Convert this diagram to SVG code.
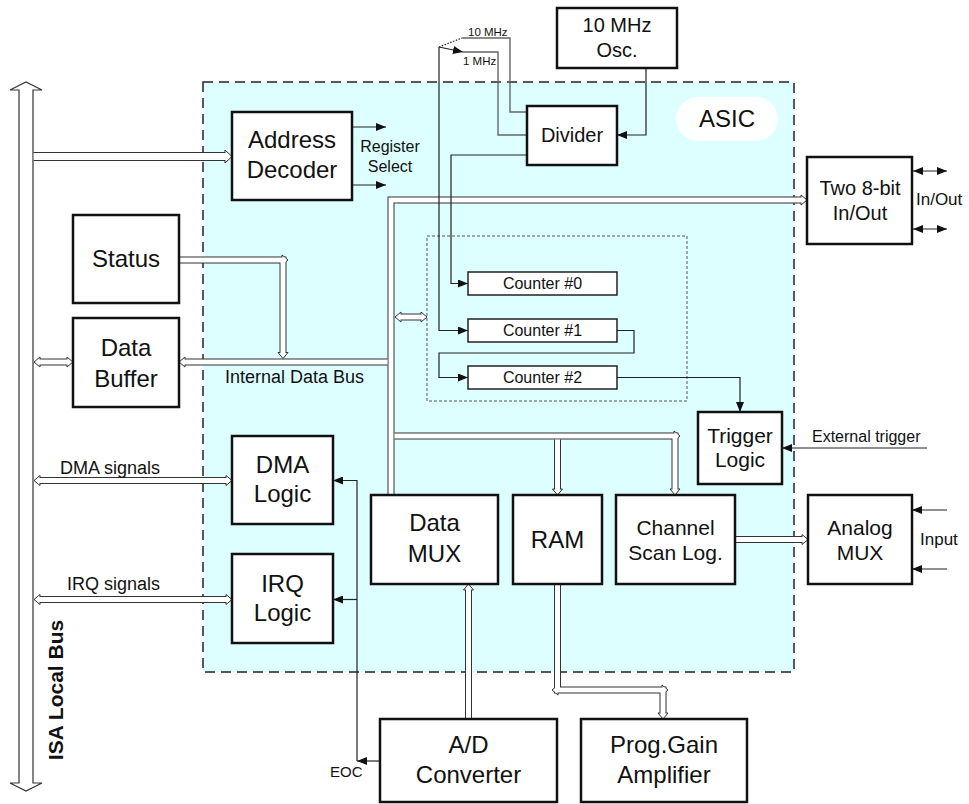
<svg xmlns="http://www.w3.org/2000/svg" xmlns:xlink="http://www.w3.org/1999/xlink" width="969" height="804" viewBox="0 0 969 804">
  <style>
    text { font-family: "Liberation Sans", Arial, sans-serif; fill: #111; }
    .box { fill: #fff; stroke: #111; stroke-width: 2.5; }
    .cnt { fill: #fff; stroke: #222; stroke-width: 1.5; }
    .t24 { font-size: 24px; text-anchor: middle; }
    .t21 { font-size: 21px; text-anchor: middle; }
    .t20 { font-size: 20px; text-anchor: middle; }
    .t16 { font-size: 16px; }
    .bo { fill: none; stroke: #333; stroke-width: 7; }
    .bi { fill: none; stroke: #fff; stroke-width: 5; }
    .bo2 { fill: none; stroke: #333; stroke-width: 9; }
    .bi2 { fill: none; stroke: #fff; stroke-width: 7; }
    .bh { fill: #fff; stroke: #333; stroke-width: 1; }
    .sig { fill: none; stroke: #222; stroke-width: 1.2; }
    .clk { fill: none; stroke: #666; stroke-width: 1.4; }
  </style>
  <defs>
    <marker id="a" viewBox="0 0 10 8" refX="10" refY="4" markerWidth="10" markerHeight="8" markerUnits="userSpaceOnUse" orient="auto">
      <path d="M0,0 L10,4 L0,8 z" fill="#111"/>
    </marker>
    <marker id="a2" viewBox="0 0 10 8" refX="10" refY="4" markerWidth="10" markerHeight="8" markerUnits="userSpaceOnUse" orient="auto-start-reverse">
      <path d="M0,0 L10,4 L0,8 z" fill="#111"/>
    </marker>
    <!-- open bus arrowheads, tip at origin, pointing +x -->
    <path id="h" class="bh" d="M-6,-5 L0,0 L-6,5 Z"/>
    <path id="hL" class="bh" d="M-7,-6.5 L0,0 L-7,6.5 Z"/>
  </defs>

  <!-- ASIC boundary -->
  <g id="asic">
    <rect x="203" y="82" width="591" height="590" fill="#ddffff" stroke="#222" stroke-width="1.5" stroke-dasharray="10 6"/>
    <rect x="676" y="97" width="102" height="44" rx="22" fill="#fff"/>
    <text x="727" y="127" class="t24">ASIC</text>
  </g>
  <g id="counters-group">
    <rect x="427" y="236" width="260" height="165" fill="none" stroke="#555" stroke-width="1" stroke-dasharray="3 2"/>
  </g>

  <g id="connectors">
    <!-- ISA local bus -->
    <polygon points="19,783 19,90 10,90 26,82 42,90 33,90 33,783 42,783 26,791 10,783" fill="#fff" stroke="#333" stroke-width="1.2"/>

    <!-- bus outlines -->
    <path class="bo2" d="M33.6 156.5 H225"/>
    <path class="bo" d="M179 260 H283 V352.5"/>
    <path class="bo" d="M391 495 V200 H801"/>
    <path class="bo" d="M185 362 H387.5"/>
    <path class="bo" d="M40 362 H67"/>
    <path class="bo" d="M401 317 H421"/>
    <path class="bo" d="M394.5 436 H675 V489"/>
    <path class="bo" d="M557.5 439.5 V489"/>
    <path class="bo" d="M735 539.5 H802"/>
    <path class="bo" d="M40 480.5 H226"/>
    <path class="bo" d="M40 599.5 H226"/>
    <path class="bo" d="M468.5 719 V590"/>
    <path class="bo" d="M557.5 584 V690 H663 V713"/>

    <!-- bus arrowheads -->
    <use xlink:href="#hL" transform="translate(232,156.5)"/>
    <use xlink:href="#h" transform="translate(288,260)"/>
    <use xlink:href="#h" transform="translate(283,358.5) rotate(90)"/>
    <use xlink:href="#h" transform="translate(807,200)"/>
    <use xlink:href="#h" transform="translate(179,362) rotate(180)"/>
    <use xlink:href="#h" transform="translate(34,362) rotate(180)"/>
    <use xlink:href="#h" transform="translate(73,362)"/>
    <use xlink:href="#h" transform="translate(395,317) rotate(180)"/>
    <use xlink:href="#h" transform="translate(427,317)"/>
    <use xlink:href="#h" transform="translate(680,436)"/>
    <use xlink:href="#h" transform="translate(675,495) rotate(90)"/>
    <use xlink:href="#h" transform="translate(557.5,495) rotate(90)"/>
    <use xlink:href="#h" transform="translate(808,539.5)"/>
    <use xlink:href="#h" transform="translate(34,480.5) rotate(180)"/>
    <use xlink:href="#h" transform="translate(232,480.5)"/>
    <use xlink:href="#h" transform="translate(34,599.5) rotate(180)"/>
    <use xlink:href="#h" transform="translate(232,599.5)"/>
    <use xlink:href="#h" transform="translate(468.5,584) rotate(-90)"/>
    <use xlink:href="#h" transform="translate(552,690) rotate(180)"/>
    <use xlink:href="#h" transform="translate(668,690)"/>
    <use xlink:href="#h" transform="translate(663,719) rotate(90)"/>

    <!-- bus interiors -->
    <path class="bi2" d="M33.6 156.5 H227"/>
    <path class="bi" d="M179 260 H283 V354.5"/>
    <path class="bi" d="M391 495 V200 H803"/>
    <path class="bi" d="M183 362 H387.5"/>
    <path class="bi" d="M38 362 H69"/>
    <path class="bi" d="M399 317 H423"/>
    <path class="bi" d="M394.5 436 H675 V491"/>
    <path class="bi" d="M557.5 439.5 V491"/>
    <path class="bi" d="M735 539.5 H804"/>
    <path class="bi" d="M38 480.5 H228"/>
    <path class="bi" d="M38 599.5 H228"/>
    <path class="bi" d="M468.5 719 V588"/>
    <path class="bi" d="M557.5 584 V690 H663 V715"/>

    <!-- clock selection -->
    <path class="clk" d="M527 112 H510 V38 H462"/>
    <path class="clk" d="M527 135 H498 V52 H463"/>
    <path class="sig" d="M439 47 L463 52" marker-end="url(#a)"/>
    <path class="sig" d="M439 47 L462 38" stroke-dasharray="1.5 1.5"/>
    <path class="sig" d="M646 68 V135 H617" marker-end="url(#a)"/>

    <!-- counter chain -->
    <path class="sig" d="M439 47 V330.5 H468" marker-end="url(#a)"/>
    <path class="sig" d="M527 155 H451 V283.5 H468" marker-end="url(#a)"/>
    <path class="sig" d="M617 330.5 H634 V353 H439 V377.5 H468" marker-end="url(#a)"/>
    <path class="sig" d="M617 377.5 H740 V412" marker-end="url(#a)"/>
    <path class="sig" d="M927 448 H782" marker-end="url(#a)"/>

    <!-- register select -->
    <path class="sig" d="M352 127 H386" marker-end="url(#a)"/>
    <path class="sig" d="M352 185 H386" marker-end="url(#a)"/>

    <!-- external I/O -->
    <path class="sig" d="M913 171 H947" marker-start="url(#a2)" marker-end="url(#a2)"/>
    <path class="sig" d="M913 229 H947" marker-start="url(#a2)" marker-end="url(#a2)"/>
    <path class="sig" d="M947 510 H912" marker-end="url(#a)"/>
    <path class="sig" d="M947 569 H912" marker-end="url(#a)"/>

    <!-- end of conversion -->
    <path class="sig" d="M380 761 H357" marker-end="url(#a)"/>
    <path class="sig" d="M357 761 V480.5 H333" marker-end="url(#a)"/>
    <path class="sig" d="M357 599.5 H333" marker-end="url(#a)"/>
  </g>

  <!-- labels on connectors -->
  <g id="labels">
    <text x="63" y="690" transform="rotate(-90 63 690)" style="font-size:21px;font-weight:bold;text-anchor:middle">ISA Local Bus</text>
    <text x="390" y="152" class="t16" text-anchor="middle">Register</text>
    <text x="390" y="172" class="t16" text-anchor="middle">Select</text>
    <text x="225" y="383" style="font-size:18px">Internal Data Bus</text>
    <text x="60" y="474" style="font-size:18px">DMA signals</text>
    <text x="67" y="590" style="font-size:18px">IRQ signals</text>
    <text x="812" y="442" class="t16">External trigger</text>
    <text x="916" y="205" style="font-size:17px">In/Out</text>
    <text x="920" y="545" style="font-size:17px">Input</text>
    <text x="330" y="777" style="font-size:15px">EOC</text>
    <text x="468" y="36" style="font-size:11.5px">10 MHz</text>
    <text x="463" y="65" style="font-size:11.5px">1 MHz</text>
  </g>

  <g id="address-decoder">
    <rect class="box" x="232" y="112" width="120" height="88"/>
    <text x="292" y="148" class="t24">Address</text>
    <text x="292" y="178" class="t24">Decoder</text>
  </g>
  <g id="status">
    <rect class="box" x="73" y="215" width="106" height="88"/>
    <text x="126" y="267" class="t24">Status</text>
  </g>
  <g id="data-buffer">
    <rect class="box" x="73" y="318" width="106" height="89"/>
    <text x="126" y="356" class="t24">Data</text>
    <text x="126" y="387" class="t24">Buffer</text>
  </g>
  <g id="dma-logic">
    <rect class="box" x="232" y="436" width="101" height="88"/>
    <text x="282.5" y="473" class="t24">DMA</text>
    <text x="282.5" y="502" class="t24">Logic</text>
  </g>
  <g id="irq-logic">
    <rect class="box" x="232" y="554" width="101" height="89"/>
    <text x="282.5" y="592" class="t24">IRQ</text>
    <text x="282.5" y="621" class="t24">Logic</text>
  </g>
  <g id="oscillator">
    <rect class="box" x="557" y="8" width="120" height="60"/>
    <text x="617" y="32" class="t20">10 MHz</text>
    <text x="617" y="57" class="t20">Osc.</text>
  </g>
  <g id="divider">
    <rect class="box" x="527" y="106" width="90" height="59"/>
    <text x="572" y="142" class="t20">Divider</text>
  </g>
  <g id="digital-io">
    <rect class="box" x="807" y="157" width="105" height="87"/>
    <text x="860" y="195" class="t20">Two 8-bit</text>
    <text x="860" y="220" class="t20">In/Out</text>
  </g>
  <g id="counter-0">
    <rect class="cnt" x="468" y="272" width="149" height="23"/>
    <text x="542.5" y="289" class="t16" text-anchor="middle">Counter #0</text>
  </g>
  <g id="counter-1">
    <rect class="cnt" x="468" y="319" width="149" height="23"/>
    <text x="542.5" y="336" class="t16" text-anchor="middle">Counter #1</text>
  </g>
  <g id="counter-2">
    <rect class="cnt" x="468" y="366" width="149" height="23"/>
    <text x="542.5" y="383" class="t16" text-anchor="middle">Counter #2</text>
  </g>
  <g id="trigger-logic">
    <rect class="box" x="698" y="412" width="84" height="72"/>
    <text x="740" y="443" class="t21">Trigger</text>
    <text x="740" y="467" class="t21">Logic</text>
  </g>
  <g id="data-mux">
    <rect class="box" x="371" y="495" width="127" height="89"/>
    <text x="434.5" y="531" class="t24">Data</text>
    <text x="434.5" y="562" class="t24">MUX</text>
  </g>
  <g id="ram">
    <rect class="box" x="513" y="495" width="89" height="89"/>
    <text x="557.5" y="548" class="t24">RAM</text>
  </g>
  <g id="channel-scan">
    <rect class="box" x="616" y="495" width="119" height="89"/>
    <text x="675.5" y="535" class="t21">Channel</text>
    <text x="675.5" y="560" class="t21">Scan Log.</text>
  </g>
  <g id="analog-mux">
    <rect class="box" x="808" y="495" width="104" height="89"/>
    <text x="860" y="535" class="t21">Analog</text>
    <text x="860" y="560" class="t21">MUX</text>
  </g>
  <g id="adc">
    <rect class="box" x="380" y="719" width="177" height="83"/>
    <text x="468.5" y="753" class="t24">A/D</text>
    <text x="468.5" y="783" class="t24">Converter</text>
  </g>
  <g id="pga">
    <rect class="box" x="581" y="719" width="166" height="83"/>
    <text x="664" y="753" class="t24">Prog.Gain</text>
    <text x="664" y="783" class="t24">Amplifier</text>
  </g>
</svg>
